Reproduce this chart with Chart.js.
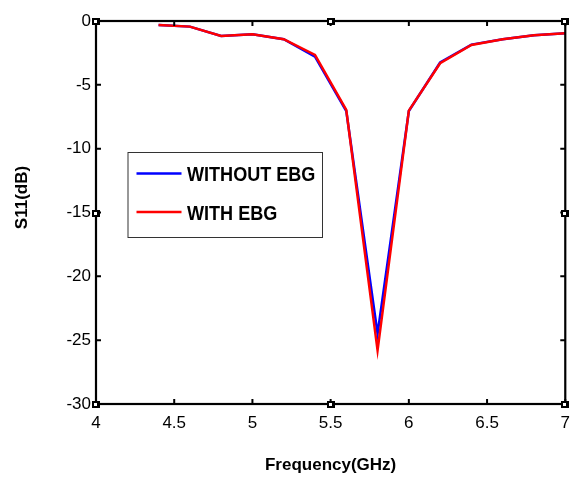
<!DOCTYPE html>
<html>
<head>
<meta charset="utf-8">
<script src="https://cdn.jsdelivr.net/npm/chart.js@4/dist/chart.umd.min.js"></script>
<style>
  html, body { margin: 0; padding: 0; background: #fff; }
  #wrap { width: 579px; height: 478px; }
</style>
</head>
<body>
<div id="wrap"><canvas id="c" width="579" height="478"></canvas></div>
<script>
// ---- data ----
const freqGHz = [4.4, 4.6, 4.8, 5.0, 5.2, 5.4, 5.6, 5.8, 6.0, 6.2, 6.4, 6.6, 6.8, 7.0];
const s11WithoutEBG = [-0.31, -0.44, -1.17, -1.04, -1.43, -2.8, -7.05, -24.5, -7.05, -3.25, -1.85, -1.43, -1.12, -0.96];
const s11WithEBG    = [-0.31, -0.44, -1.17, -1.04, -1.43, -2.66, -6.97, -25.8, -7.02, -3.31, -1.88, -1.43, -1.12, -0.96];
const seriesLabels = ['WITHOUT EBG', 'WITH EBG'];
const xTicks = [4, 4.5, 5, 5.5, 6, 6.5, 7];
const yTicks = [-30, -25, -20, -15, -10, -5, 0];
const xTitle = 'Frequency(GHz)';
const yTitle = 'S11(dB)';

const FONT = '"Liberation Sans", Arial, Helvetica, sans-serif';

const toPts = (xs, ys) => xs.map((x, i) => ({ x: x, y: ys[i] }));

// frame with inward ticks on all four sides (+ the small square glyphs seen on the axes)
const framePlugin = {
  id: 'frame',
  afterDatasetsDraw(chart) {
    const ctx = chart.ctx;
    const a = chart.chartArea;
    const xs = chart.scales.x, ys = chart.scales.y;
    const L = 5;
    ctx.save();
    ctx.strokeStyle = '#000';
    ctx.lineWidth = 2;
    ctx.beginPath();
    xTicks.forEach(v => {
      const px = xs.getPixelForValue(v);
      ctx.moveTo(px, a.bottom); ctx.lineTo(px, a.bottom - L);
      ctx.moveTo(px, a.top); ctx.lineTo(px, a.top + L);
    });
    yTicks.forEach(v => {
      const py = ys.getPixelForValue(v);
      ctx.moveTo(a.left, py); ctx.lineTo(a.left + L, py);
      ctx.moveTo(a.right, py); ctx.lineTo(a.right - L, py);
    });
    ctx.stroke();
    ctx.lineWidth = 2.2;
    ctx.strokeRect(a.left, a.top, a.right - a.left, a.bottom - a.top);
    // small square glyphs on the axes
    const xMin = xTicks[0], xMax = xTicks[xTicks.length - 1], xMid = xTicks[3];
    const yMin = yTicks[0], yMax = yTicks[yTicks.length - 1], yMid = yTicks[3];
    const marks = [[xMin, yMax], [xMin, yMid], [xMin, yMin], [xMid, yMax], [xMid, yMin], [xMax, yMax], [xMax, yMid], [xMax, yMin]];
    marks.forEach(([vx, vy]) => {
      const px = Math.round(xs.getPixelForValue(vx)), py = Math.round(ys.getPixelForValue(vy));
      ctx.fillStyle = '#000';
      ctx.fillRect(px - 4, py - 3, 8, 7);
      ctx.fillStyle = '#fff';
      ctx.fillRect(px - 2, py - 1, 3, 3);
    });
    ctx.restore();
  }
};

// boxed legend inside the plot + rotated y title
const legendPlugin = {
  id: 'boxLegend',
  afterDraw(chart) {
    const ctx = chart.ctx;
    const a = chart.chartArea;
    const bx = a.left + 31.5, by = a.top + 131, bw = 194.5, bh = 85;
    ctx.save();
    ctx.fillStyle = '#fff';
    ctx.fillRect(bx, by, bw, bh);
    ctx.strokeStyle = '#333';
    ctx.lineWidth = 1;
    ctx.strokeRect(bx + 0.5, by + 0.5, bw, bh);
    const rows = [by + 21.5, by + 60];
    chart.data.datasets.forEach((ds, i) => {
      const y = rows[i];
      ctx.strokeStyle = ds.borderColor;
      ctx.lineWidth = 2.5;
      ctx.beginPath();
      ctx.moveTo(bx + 9, y); ctx.lineTo(bx + 54, y);
      ctx.stroke();
      ctx.save();
      ctx.translate(bx + 59.5, y + 2);
      ctx.scale(0.86, 1);
      ctx.fillStyle = '#000';
      ctx.font = 'bold 21px ' + FONT;
      ctx.textBaseline = 'middle';
      ctx.textAlign = 'left';
      ctx.fillText(ds.label, 0, 0);
      ctx.restore();
    });
    // y-axis title
    ctx.save();
    ctx.translate(22.5, 197.5);
    ctx.rotate(-Math.PI / 2);
    ctx.fillStyle = '#000';
    ctx.font = 'bold 17px ' + FONT;
    ctx.textAlign = 'center';
    ctx.textBaseline = 'middle';
    ctx.fillText(yTitle, 0, 0);
    ctx.restore();
    ctx.restore();
  }
};

new Chart(document.getElementById('c'), {
  type: 'line',
  data: {
    datasets: [
      { label: seriesLabels[0], data: toPts(freqGHz, s11WithoutEBG), borderColor: '#0000ff', borderWidth: 2.5, pointRadius: 0, tension: 0, fill: false, order: 1 },
      { label: seriesLabels[1], data: toPts(freqGHz, s11WithEBG), borderColor: '#ff0000', borderWidth: 2.5, pointRadius: 0, tension: 0, fill: false, order: 0 }
    ]
  },
  options: {
    responsive: false,
    animation: false,
    devicePixelRatio: 1,
    layout: { padding: { top: 21, right: 6, left: 0, bottom: 0 } },
    plugins: { legend: { display: false }, tooltip: { enabled: false } },
    scales: {
      x: {
        type: 'linear', min: 4, max: 7,
        afterBuildTicks: s => { s.ticks = xTicks.map(v => ({ value: v })); },
        afterFit: s => { s.height = 74; },
        grid: { display: false, drawTicks: false },
        border: { display: false },
        ticks: { color: '#000', font: { family: FONT, size: 17 }, padding: 9, maxRotation: 0, autoSkip: false,
                 callback: v => String(v) },
        title: { display: true, text: xTitle, color: '#000', font: { family: FONT, size: 17, weight: 'bold' }, padding: { top: 0, bottom: 2 } }
      },
      y: {
        type: 'linear', min: -30, max: 0,
        afterBuildTicks: s => { s.ticks = yTicks.map(v => ({ value: v })); },
        afterFit: s => { s.width = 96; },
        grid: { display: false, drawTicks: false },
        border: { display: false },
        ticks: { color: '#000', font: { family: FONT, size: 17 }, padding: 5, autoSkip: false,
                 callback: v => String(v) },
        title: { display: false }
      }
    }
  },
  plugins: [framePlugin, legendPlugin]
});
</script>
</body>
</html>
